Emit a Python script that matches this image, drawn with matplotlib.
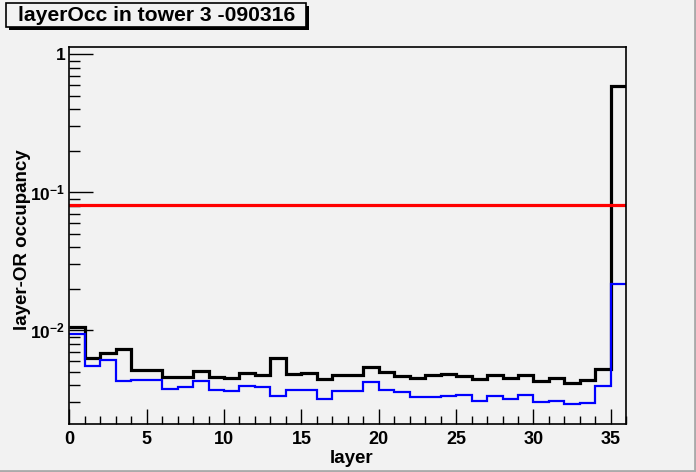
import matplotlib
matplotlib.use('Agg')
import matplotlib.pyplot as plt
import numpy as np
from matplotlib.patches import Rectangle
from matplotlib.lines import Line2D
from matplotlib.ticker import FixedLocator, MultipleLocator, NullFormatter

plt.rcParams['font.family'] = ['Liberation Sans', 'DejaVu Sans']
plt.rcParams['font.weight'] = 'bold'
plt.rcParams['mathtext.fontset'] = 'custom'
plt.rcParams['mathtext.rm'] = 'Liberation Sans:bold'
plt.rcParams['mathtext.default'] = 'rm'

title = 'layerOcc in tower 3 -090316'
bin_edges = list(range(0, 37))
# layer-OR occupancy per layer (black = all, blue = second series)
occ_black = [0.0106, 0.0063, 0.00686, 0.00733, 0.00516, 0.00516, 0.00462, 0.00462,
             0.00511, 0.00462, 0.00452, 0.00493, 0.00477, 0.0063, 0.00486, 0.00493,
             0.00445, 0.00475, 0.00475, 0.0054, 0.00502, 0.0047, 0.00452, 0.00475,
             0.00483, 0.0047, 0.00445, 0.00473, 0.00452, 0.00473, 0.00427, 0.00449,
             0.00416, 0.00437, 0.00525, 0.594]
occ_blue = [0.0094, 0.00548, 0.00612, 0.0043, 0.0044, 0.00435, 0.00377, 0.00387,
            0.00427, 0.00372, 0.00364, 0.00398, 0.00387, 0.00333, 0.00372, 0.00368,
            0.00318, 0.00363, 0.00366, 0.0042, 0.00372, 0.00356, 0.00331, 0.00331,
            0.00337, 0.00342, 0.00306, 0.00337, 0.00318, 0.00342, 0.00302, 0.00306,
            0.00293, 0.00296, 0.00393, 0.0217]
threshold = 0.0805
ymin, ymax = 0.002085, 1.135

bg = '#f2f2f2'
W, H = 696, 472
fig = plt.figure(figsize=(W / 100, H / 100), dpi=100, facecolor=bg)
ax = fig.add_axes([69.3 / W, 1 - 424.3 / H, (626.3 - 69.3) / W, (424.3 - 46.7) / H])
ax.set_facecolor(bg)

ax.stairs(occ_black, bin_edges, baseline=None, color='black', linewidth=2.3)
ax.stairs(occ_blue, bin_edges, baseline=None, color='blue', linewidth=1.6)
ax.plot([0, 36], [threshold, threshold], color='red', linewidth=2.3)

ax.set_yscale('log')
ax.set_xlim(0, 36)
ax.set_ylim(ymin, ymax)

ax.set_yticks([1e-2, 1e-1, 1], [r'10$^{-2}$', r'10$^{-1}$', '1'])
minors = [m * 10.0 ** e for e in (-3, -2, -1) for m in range(2, 10)]
ax.yaxis.set_minor_locator(FixedLocator(minors))
ax.yaxis.set_minor_formatter(NullFormatter())
ax.xaxis.set_major_locator(MultipleLocator(5))
ax.xaxis.set_minor_locator(MultipleLocator(1))

ax.tick_params(axis='both', which='both', direction='in', top=False, right=False,
               width=1, color='black')
ax.tick_params(axis='x', labelsize=13)
ax.tick_params(axis='y', labelsize=12.5)
ax.tick_params(axis='y', which='major', length=17, pad=3)
ax.tick_params(axis='y', which='minor', length=8)
ax.tick_params(axis='x', which='major', length=11, pad=5)
ax.tick_params(axis='x', which='minor', length=6)
for s in ax.spines.values():
    s.set_linewidth(1.2)

ax.set_xlabel('layer', fontsize=13.5, fontweight='bold')
ax.set_ylabel('layer-OR occupancy', fontsize=13.5, fontweight='bold')
ax.yaxis.set_label_coords(-0.068, 0.49)
ax.xaxis.set_label_coords(0.506, -0.068)

# title box with shadow
def px_rect(x0, y0, x1, y1, **kw):
    return Rectangle((x0 / W, 1 - y1 / H), (x1 - x0) / W, (y1 - y0) / H,
                     transform=fig.transFigure, **kw)

fig.patches.append(px_rect(9, 6, 309, 30, facecolor='black', edgecolor='none'))
fig.patches.append(px_rect(6, 3, 306, 27, facecolor=bg, edgecolor='black', linewidth=1.2))
fig.text(157 / W, 1 - 15.5 / H, title, ha='center', va='center',
         fontsize=15.2, fontweight='bold')

# canvas border
fig.lines.append(Line2D([1 - 1.5 / W, 1 - 1.5 / W], [0, 1], transform=fig.transFigure,
                        color='#aaaaaa', linewidth=2))
fig.lines.append(Line2D([0, 1], [1.5 / H, 1.5 / H], transform=fig.transFigure,
                        color='#aaaaaa', linewidth=2))

fig.savefig('out.png', dpi=100, facecolor=bg)
